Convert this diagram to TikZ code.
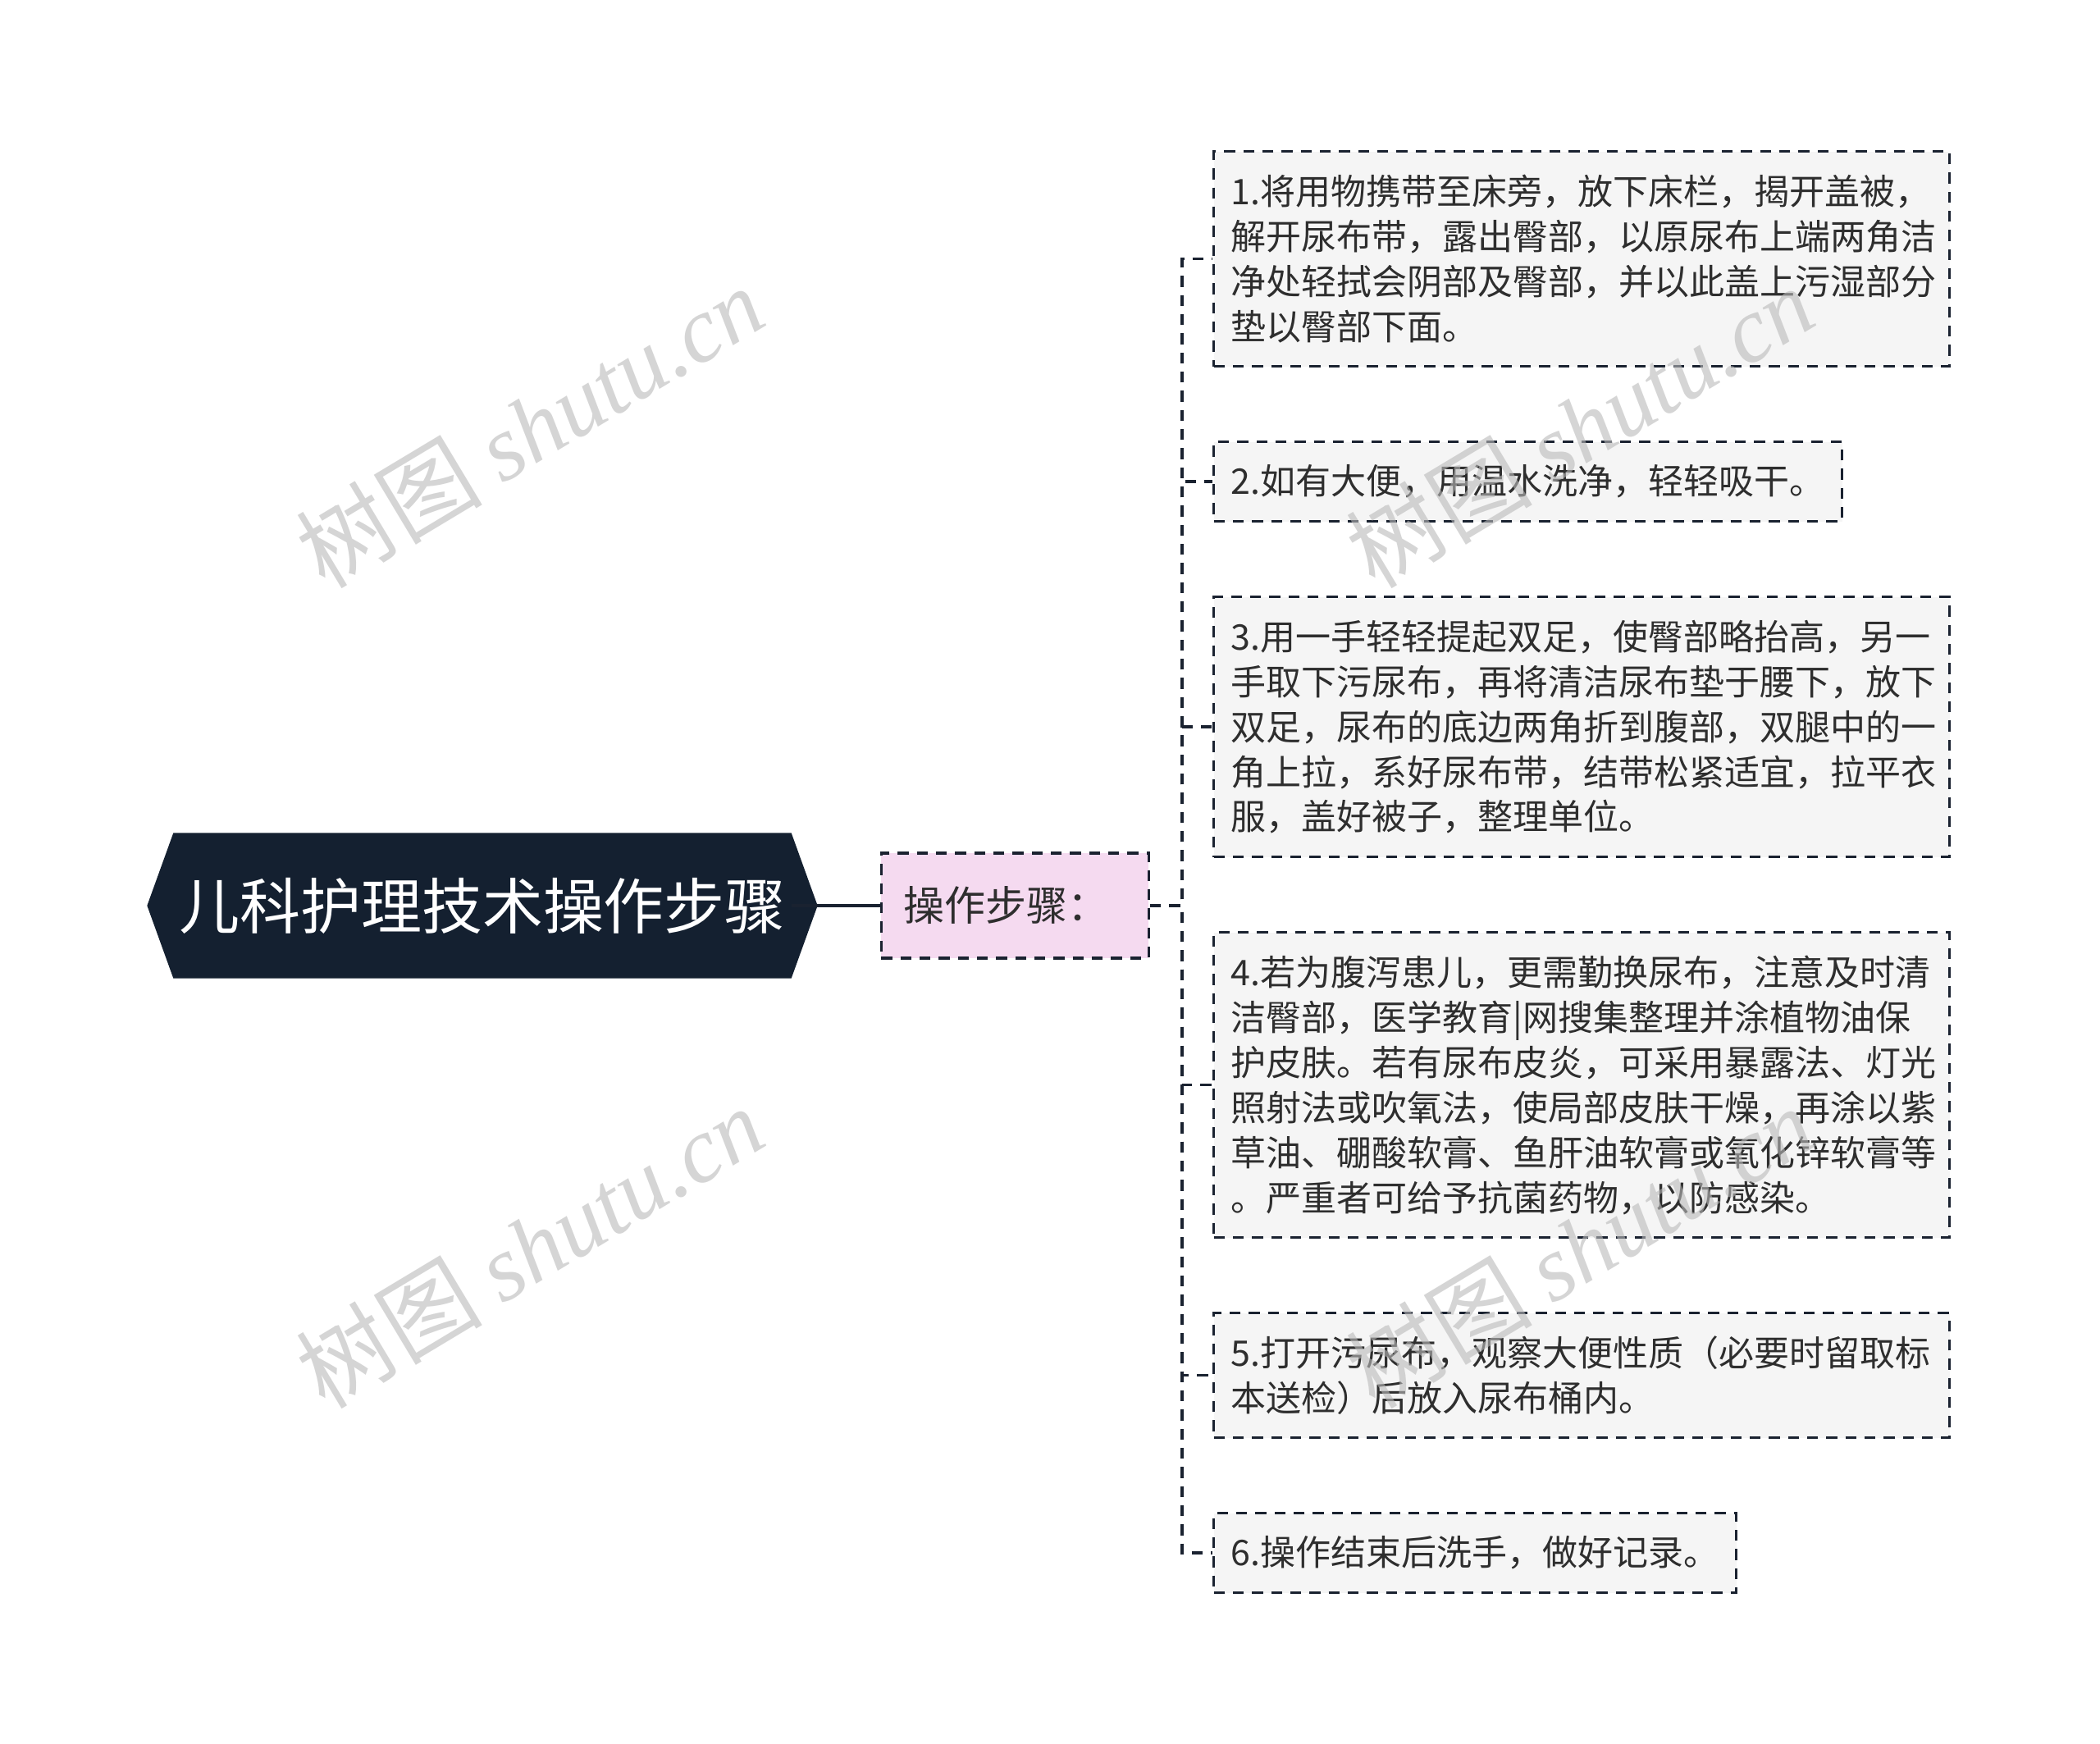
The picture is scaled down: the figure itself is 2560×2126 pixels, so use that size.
\documentclass[tikz,border=0pt]{standalone}
\usepackage{fontspec}
\setmainfont{Noto Sans CJK SC}
\newfontfamily\wmserif{Liberation Serif}
\usetikzlibrary{positioning,backgrounds}
\definecolor{rootfill}{HTML}{142030}
\definecolor{opfill}{HTML}{F5DAF0}
\definecolor{boxfill}{HTML}{F5F5F5}
\definecolor{linecol}{HTML}{1A2230}
\definecolor{textcol}{HTML}{2E2E2E}

\begin{document}
\begin{tikzpicture}
[x=0.3pt,y=-0.3pt,
 dashedge/.style={draw=linecol,line width=1pt,dash pattern=on 4pt off 3pt},
 stepbox/.style={dashedge,fill=boxfill,text=textcol,align=left,inner xsep=6.3pt,inner ysep=0pt,
   font=\fontsize{12.9pt}{16.5pt}\selectfont},
 wide/.style={text width=256.5pt},
 lines/.style={minimum height={#1*16.5pt+12.6pt}},
 link/.style={dashedge},
 wmark/.style={rotate=31,text=gray!55,text opacity=0.6,font=\fontsize{34pt}{34pt}\selectfont}]
\useasboundingbox (0,0) rectangle (2560,2126);
% root and first level
\node[minimum width=225.6pt,minimum height=52.8pt,inner sep=0pt,text=white,
  font=\fontsize{22.2pt}{26pt}\selectfont](root) at (588,1104){儿科护理技术操作步骤};
\node[dashedge,fill=opfill,text=textcol,text width=81.6pt,align=left,inner xsep=8.1pt,inner ysep=0pt,
  minimum height=38.4pt,font=\fontsize{15pt}{18pt}\selectfont,right=32.4pt of root](op){操作步骤：};
\begin{scope}[on background layer]
\fill[rootfill] (root.north west) -- (root.north east) -- ([xshift=9.6pt]root.east)
  -- (root.south east) -- (root.south west) -- ([xshift=-9.6pt]root.west) -- cycle;
\end{scope}
\draw[draw=linecol,line width=1.2pt] (root.east) -- (op.west);
\coordinate[right=11.7pt of op](fork);
% steps
\node[stepbox,wide,lines=4,anchor=north west](s1) at (1478,183){1.将用物携带至床旁，放下床栏，揭开盖被，\\解开尿布带，露出臀部，以原尿布上端两角洁\\净处轻拭会阴部及臀部，并以此盖上污湿部分\\垫以臀部下面。};
\node[stepbox,lines=1,below=26.6pt of s1.south west,anchor=north west](s2){2.如有大便，用温水洗净，轻轻吸干。};
\node[stepbox,wide,lines=5,below=26.6pt of s2.south west,anchor=north west](s3){3.用一手轻轻提起双足，使臀部略抬高，另一\\手取下污尿布，再将清洁尿布垫于腰下，放下\\双足，尿布的底边两角折到腹部，双腿中的一\\角上拉，系好尿布带，结带松紧适宜，拉平衣\\服，盖好被子，整理单位。};
\node[stepbox,wide,lines=6,below=26.6pt of s3.south west,anchor=north west](s4){4.若为腹泻患儿，更需勤换尿布，注意及时清\\洁臀部，医学教育|网搜集整理并涂植物油保\\护皮肤。若有尿布皮炎，可采用暴露法、灯光\\照射法或吹氧法，使局部皮肤干燥，再涂以紫\\草油、硼酸软膏、鱼肝油软膏或氧化锌软膏等\\。严重者可给予抗菌药物，以防感染。};
\node[stepbox,wide,lines=2,below=26.6pt of s4.south west,anchor=north west](s5){5.打开污尿布，观察大便性质（必要时留取标\\本送检）后放入尿布桶内。};
\node[stepbox,lines=1,below=26.6pt of s5.south west,anchor=north west](s6){6.操作结束后洗手，做好记录。};
\draw[link] (op.east) -- (fork) |- (s1.west);
\draw[link] (op.east) -- (fork) |- (s2.west);
\draw[link] (op.east) -- (fork) |- (s3.west);
\draw[link] (op.east) -- (fork) |- (s4.west);
\draw[link] (op.east) -- (fork) |- (s5.west);
\draw[link] (op.east) -- (fork) |- (s6.west);
% watermarks
\node[wmark](wm1) at (646,520){树图 {\wmserif\itshape shutu.cn}};
\node[wmark](wm2) at (1926,520){树图 {\wmserif\itshape shutu.cn}};
\node[wmark](wm3) at (646,1520){树图 {\wmserif\itshape shutu.cn}};
\node[wmark](wm4) at (1926,1520){树图 {\wmserif\itshape shutu.cn}};
\end{tikzpicture}
\end{document}
